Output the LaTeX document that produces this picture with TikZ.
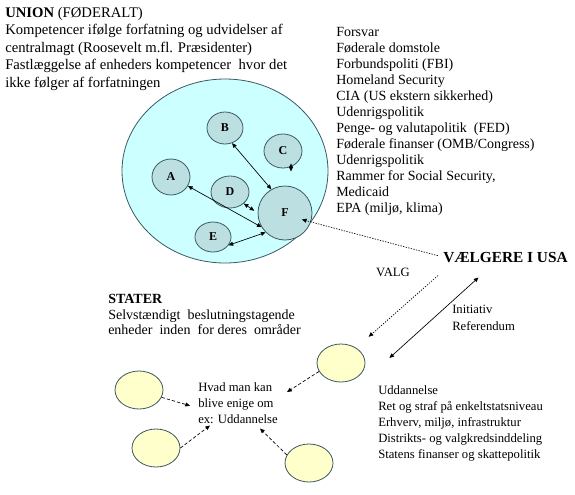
\documentclass[tikz,border=0pt]{standalone}
\usepackage{fontspec}
\setmainfont{Liberation Serif}
\usetikzlibrary{shapes.geometric,arrows.meta}
\definecolor{unionfill}{HTML}{CCFFFF}
\definecolor{unitfill}{HTML}{BCE0E2}
\definecolor{unitline}{HTML}{3B5961}
\definecolor{statefill}{HTML}{FFFFCC}

\begin{document}
\begin{tikzpicture}[x=0.75pt,y=-0.75pt,
    unit/.style={ellipse,draw=unitline,fill=unitfill,line width=0.6pt,inner sep=0pt,font=\fontsize{9}{11}\selectfont\bfseries},
    state/.style={ellipse,draw=unitline,fill=statefill,line width=0.6pt,minimum width=36pt,minimum height=28.5pt,inner sep=0pt},
    txt/.style={anchor=north west,inner sep=0pt,align=left},
    tip/.style={line width=0.5pt,-{Triangle[length=3.5pt,width=3pt]}},
    dbl/.style={line width=0.5pt,{Triangle[length=3.5pt,width=3pt]}-{Triangle[length=3.5pt,width=3pt]}},
    dotline/.style={line width=0.9pt,dash pattern=on 1pt off 1pt},
    dashline/.style={dash pattern=on 2.5pt off 1.5pt}]
    \useasboundingbox (0,0) rectangle (575,494);

    \node[ellipse,draw=unitline,fill=unionfill,line width=0.6pt,minimum width=154.5pt,minimum height=138pt,inner sep=0pt] (union) at (225,171) {};
    \node[unit,minimum width=27pt,minimum height=24pt] (B) at (225,128) {B};
    \node[unit,minimum width=28.5pt,minimum height=25.5pt] (C) at (283,151) {C};
    \node[unit,minimum width=28.5pt,minimum height=27pt] (A) at (171,177) {A};
    \node[unit,minimum width=28.5pt,minimum height=24pt] (D) at (230,192) {D};
    \node[unit,minimum width=27pt,minimum height=22.5pt] (E) at (213,237) {E};
    \node[unit,minimum width=40.5pt,minimum height=40.5pt] (F) at (285,213) {F};
    \coordinate (Cup) at ([shift={(8,-5)}]C.south);
    \coordinate (Cdown) at ([shift={(8,3)}]C.south);

    \draw[dbl] (B.-65) -- (F.120);
    \draw[dbl] (Cup) -- (Cdown);
    \draw[dbl] (A.-28) -- (F.211);
    \draw[dbl,shorten >=3pt] (D.-40) -- (F.180);
    \draw[dbl] (E.-28) -- (F.225);

    \node[txt,font=\fontsize{11}{13.1}\selectfont] (uniontxt) at (5,7) {\textbf{UNION} (FØDERALT)\\Kompetencer ifølge forfatning og udvidelser af\\centralmagt (Roosevelt m.fl. Præsidenter)\\Fastlæggelse af enheders kompetencer\ \ hvor det\\ikke følger af forfatningen};
    \node[txt,font=\fontsize{10.5}{12}\selectfont] (federal) at (336,27) {Forsvar\\Føderale domstole\\Forbundspoliti (FBI)\\Homeland Security\\CIA (US ekstern sikkerhed)\\Udenrigspolitik\\Penge- og valutapolitik\ \ (FED)\\Føderale finanser (OMB/Congress)\\Udenrigspolitik\\Rammer for Social Security,\\Medicaid\\EPA (miljø,\ klima)};

    \node[anchor=base west,inner sep=0pt,font=\fontsize{11.5}{14}\selectfont\bfseries] (voters) at (443,262) {VÆLGERE I USA};
    \node[anchor=base,inner sep=0pt,font=\fontsize{9.5}{12}\selectfont] (valg) at (393,276) {VALG};
    \node[txt,font=\fontsize{9.5}{12.75}\selectfont] (initiativ) at (452,305) {Initiativ\\Referendum};

    \node[txt,font=\fontsize{10.5}{11.6}\selectfont] (stater) at (108,294) {\textbf{STATER}\\Selvstændigt\ \ beslutningstagende\\enheder\ \ inden\ \ for deres\ \ områder};

    \node[state] (s1) at (341,363) {};
    \node[state] (s2) at (139,390) {};
    \node[state] (s3) at (156,448) {};
    \node[state] (s4) at (309,463) {};
    \node[txt,font=\fontsize{9.5}{12}\selectfont] (agree) at (198,382) {Hvad man kan\\blive enige om\\ex: Uddannelse};
    \node[txt,font=\fontsize{9.5}{12}\selectfont] (statelist) at (378,385) {Uddannelse\\Ret og straf på enkeltstatsniveau\\Erhverv, miljø,\ infrastruktur\\Distrikts-\ og valgkredsinddeling\\Statens finanser og skattepolitik};

    \draw[dotline,tip,shorten <=4pt,shorten >=-7pt] (voters.west) -- (F.-19);
    \draw[dotline,tip,shorten >=12.5pt] ([shift={(-5,13)}]voters.south west) -- (s1.45);
    \draw[dbl] ([shift={(-27,15)}]voters.south) -- ([shift={(24,-5)}]s1.east);

    \draw[dashline,tip] (s2.-18) -- ([shift={(-8,3)}]agree.west);
    \draw[dashline,tip] (s3.east) -- ([shift={(12,2)}]agree.south west);
    \draw[dashline,tip] (s4.160) -- ([shift={(-18,5)}]agree.south east);
    \draw[dashline,tip] (s1.201) -- ([shift={(9,10)}]agree.north east);
\end{tikzpicture}
\end{document}
